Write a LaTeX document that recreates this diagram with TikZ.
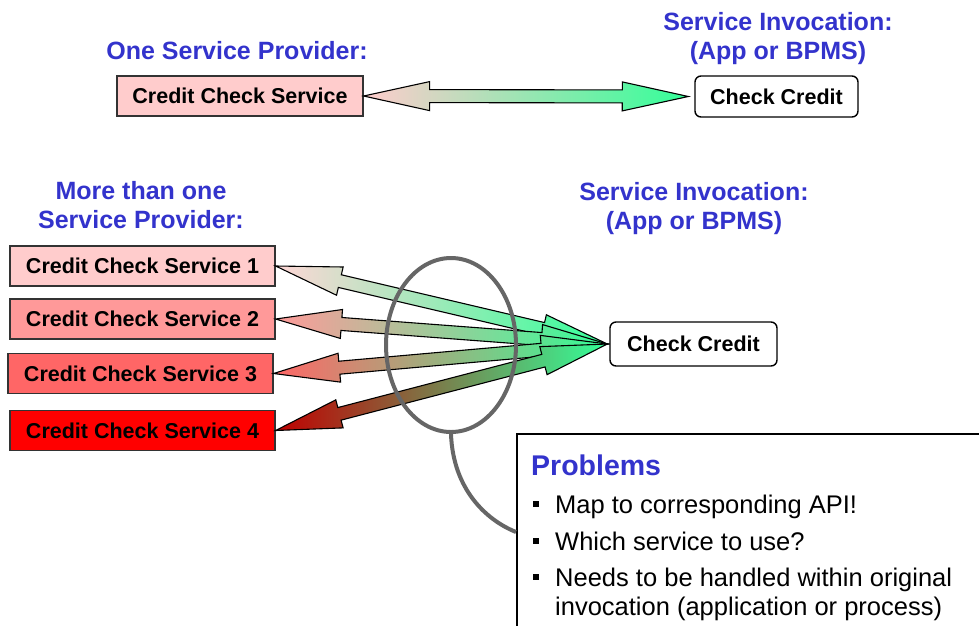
\documentclass[tikz,border=0pt]{standalone}
\usepackage{fontspec}
\setmainfont{Liberation Sans}
\usetikzlibrary{calc,shapes.geometric}

\definecolor{headblue}{RGB}{51,51,204}
\definecolor{arrowgreen}{RGB}{51,255,153}
\definecolor{ringgray}{RGB}{102,102,102}
\definecolor{pinkA}{RGB}{255,204,204}
\definecolor{pinkB}{RGB}{255,153,153}
\definecolor{pinkC}{RGB}{255,102,102}
\definecolor{pinkD}{RGB}{255,0,0}

% Fat double arrow between two points, shaded from #3 to green
\def\headlen{66pt}
\def\headwd{14.5pt}
\def\shaftwd{6.5pt}
\newcommand{\fatarrow}[3]{%
  \shade[left color=#3, right color=arrowgreen, draw=black, line width=1.1pt, line join=miter]
    (#1) -- ($(#1)!\headlen!(#2)!\headwd!90:(#2)$) -- ($(#1)!\headlen!(#2)!\shaftwd!90:(#2)$)
    -- ($(#2)!\headlen!(#1)!\shaftwd!-90:(#1)$) -- ($(#2)!\headlen!(#1)!\headwd!-90:(#1)$)
    -- (#2)
    -- ($(#2)!\headlen!(#1)!\headwd!90:(#1)$) -- ($(#2)!\headlen!(#1)!\shaftwd!90:(#1)$)
    -- ($(#1)!\headlen!(#2)!\shaftwd!-90:(#2)$) -- ($(#1)!\headlen!(#2)!\headwd!-90:(#2)$)
    -- cycle;}

\begin{document}
\begin{tikzpicture}[x=1pt, y=-1pt,
    heading/.style={text=headblue, align=center, inner sep=0pt,
      font=\fontsize{25}{29}\selectfont\bfseries},
    svcbox/.style={draw=black!80, line width=1.2pt, inner sep=0pt,
      minimum width=265, minimum height=40, font=\fontsize{21.5}{24}\selectfont\bfseries},
    callbox/.style={draw=black, fill=white, line width=1.4pt, rounded corners=6pt,
      inner sep=0pt, font=\fontsize{21.5}{24}\selectfont\bfseries},
    itemtext/.style={anchor=base west, inner sep=0pt, font=\fontsize{25.5}{29}\selectfont},
    sqbullet/.style={fill=black, inner sep=0pt, minimum size=6.5pt}]

    % Page size
    \clip (0,0) rectangle (979,625);

    % Headings (base anchor sits on the last line)
    \node[heading, anchor=base] (onehead) at (237,59) {One Service Provider:};
    \node[heading, anchor=base] (callhead) at (778,59) {Service Invocation:\\(App or BPMS)};
    \node[heading, anchor=base] (manyhead) at (141,228) {More than one\\Service Provider:};
    \node[heading, anchor=base] (callhead2) at (694,229) {Service Invocation:\\(App or BPMS)};

    % One service provider
    \node[svcbox, fill=pinkA, minimum width=246] (ccs) at (240,96) {Credit Check Service};
    \node[callbox, minimum width=163, minimum height=41] (chk) at (776.5,96.5) {Check Credit};
    \coordinate (chkin) at ($(chk.west)+(-6,0)$);
    \fatarrow{ccs.east}{chkin}{pinkA}

    % More than one service provider
    \node[svcbox, fill=pinkA] (ccs1) at (142.5,266) {Credit Check Service 1};
    \node[svcbox, fill=pinkB] (ccs2) at (142.5,319) {Credit Check Service 2};
    \node[svcbox, fill=pinkC] (ccs3) at (140.5,373.5) {Credit Check Service 3};
    \node[svcbox, fill=pinkD] (ccs4) at (142.5,430.5) {Credit Check Service 4};
    \node[callbox, minimum width=167, minimum height=44] (chk2) at (693.5,344) {Check Credit};
    \coordinate (chk2in) at ($(chk2.west)+(-2,0)$);

    \fatarrow{ccs1.east}{chk2in}{pinkA!80!white}
    \fatarrow{ccs2.east}{chk2in}{pinkB}
    \fatarrow{ccs3.east}{chk2in}{pinkC}
    \fatarrow{ccs4.east}{chk2in}{red!75!black}

    % Ring round the arrows
    \node[ellipse, draw=ringgray, line width=4pt, inner sep=0pt,
      minimum width=130, minimum height=174] (ring) at (451,345) {};

    % Problems box
    \node[draw=black, fill=white, line width=1.5pt, anchor=north west, inner sep=0pt,
      minimum width=520, minimum height=240] (prob) at (516,433) {};
    \coordinate (probtap) at ($(prob.north west)+(0,99)$);
    \draw[ringgray, line width=4pt] (ring.south) .. controls +(2,55) and +(-30,-12) .. (probtap);

    \node[anchor=base west, inner sep=0pt, text=headblue,
      font=\fontsize{28.5}{32}\selectfont\bfseries] (probhead) at (531,475) {Problems};
    \node[itemtext] (item1) at (555,513) {Map to corresponding API!};
    \node[itemtext] (item2) at (555,550) {Which service to use?};
    \node[itemtext] (item3) at (555,586) {Needs to be handled within original};
    \node[itemtext] (item3b) at (555,615) {invocation (application or process)};
    \node[sqbullet] (dot1) at (536,504) {};
    \node[sqbullet] (dot2) at (536,541) {};
    \node[sqbullet] (dot3) at (536,577) {};
\end{tikzpicture}
\end{document}
